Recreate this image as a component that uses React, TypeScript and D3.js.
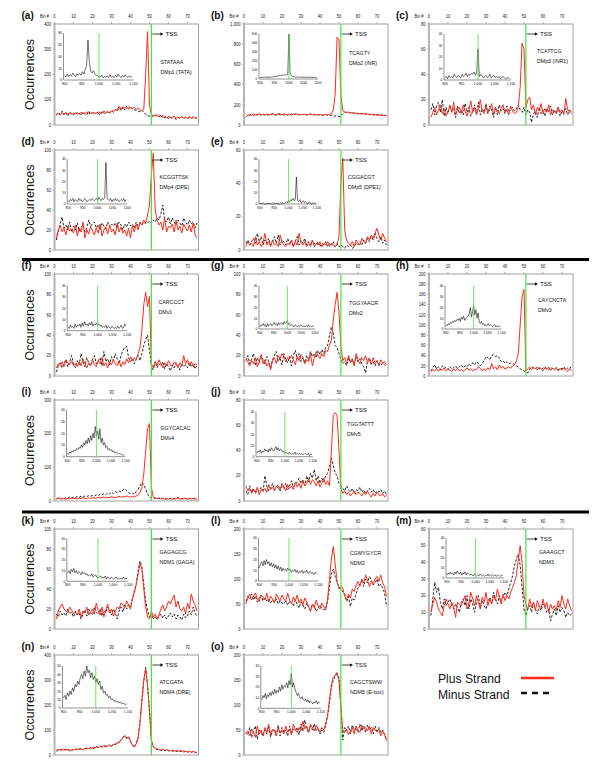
import React from 'react';
import * as d3 from 'd3';

// ---------- categories / ticks ----------
const BINS = d3.range(1, 76); // bin numbers 1..75
const BIN_TICKS = [0, 10, 20, 30, 40, 50, 60, 70];
const INSET_X = d3.range(900, 1100, 4); // 50 positions
const INSET_X_TICKS = [900, 950, 1000, 1050, 1100];
const TSS_BIN = 51;
const INSET_TSS = 1000;

// ---------- series ----------
const A_PLUS = [42,45,40,48,44,50,43,46,41,47, 45,49,43,50,46,44,52,47,45,50, 48,44,52,49,46,55,50,53,48,56, 55,60,58,75,62,66,70,64,72,68, 65,70,62,68,60, 55,62,200,370,80, 40,38,36,42,34, 38,30,35,28,33, 30,26,35,28,32, 27,34,26,31,25, 30,28,33,26,30];
const A_MINUS = [38,50,42,55,40,48,36,52,44,40, 50,42,47,38,52,45,40,55,43,48, 42,50,46,40,54,48,44,52,46,58, 50,62,55,68,58,72,60,75,62,70, 64,60,58,55,52, 58,52,42,36,35, 38,33,40,32,36, 30,38,28,34,24, 32,28,36,22,30, 26,33,25,30,28, 32,25,30,28,27];
const A_INSET = [8,5,10,6,9,7,12,8,6,10, 9,11,8,14,10,18,25,68,30,15, 12,16,10,8,7,6,5,8,4,6, 5,7,4,9,5,6,4,8,5,10, 6,4,8,5,9,6,4,7,5,6];

const B_PLUS = [80,95,105,100,110,98,105,112,100,108, 102,110,98,106,112,104,100,115,108,102, 110,105,100,112,98,108,104,110,100,106, 102,108,98,104,110,100,106,98,104,100, 102,98,106,100,104, 110,150,300,870,850, 300,140,130,125,128, 120,125,115,118,110, 112,108,115,104,110, 100,108,98,104,96, 102,95,100,92,98];
const B_MINUS = [75,100,95,108,92,105,98,110,96,104, 100,94,106,98,110,102,96,108,100,104, 98,106,100,96,108,102,110,98,104,100, 106,98,104,100,108,96,102,106,98,104, 100,96,102,98,94, 96,90,88,85,82, 90,110,128,122,125, 118,122,115,120,112, 110,116,106,112,104, 108,100,106,98,102, 96,100,94,98,90];
const B_INSET = [15,18,20,17,22,19,21,18,23,20, 22,25,24,28,30,32,35,38,40,42, 45,42,48,44,50,500,70,40,30,25, 22,20,24,21,19,22,20,18,21,19, 20,17,19,18,20,16,18,19,17,18];

const C_PLUS = [6,10,14,8,12,16,9,13,7,11, 15,10,18,8,12,14,9,16,11,7, 12,19,10,14,8,13,20,11,9,15, 10,12,17,8,14,11,9,13,16,10, 12,8,15,11,9, 10,14,30,65,60, 14,20,22,12,16, 8,14,11,17,9, 13,10,16,8,12, 11,9,14,10,12, 8,21,12,10,11];
const C_MINUS = [12,17,8,15,18,10,20,7,14,9, 16,11,13,6,15,9,12,8,17,10, 14,7,11,16,9,18,8,13,10,17, 9,15,12,6,14,8,16,11,13,9, 15,10,12,14,11, 13,16,12,10,14, 8,12,10,2,9, 11,6,14,9,12, 7,13,10,15,8, 12,9,14,7,11, 10,13,8,12,9];
const C_INSET = [2,3,1,4,2,3,2,5,3,2, 4,3,2,5,3,4,6,3,5,4, 6,5,7,4,6,27,3,5,4,2, 3,4,2,3,5,2,3,4,2,3, 2,3,1,2,3,2,1,2,2,1];

const D_PLUS = [12,20,25,18,22,15,24,19,21,17, 25,14,22,18,28,12,20,16,24,19, 15,22,17,26,14,20,23,16,25,18, 21,15,27,18,23,17,20,14,22,12, 24,18,26,20,28, 25,30,27,35,45, 75,97,40,30,25, 28,20,32,18,24, 22,26,18,30,20, 24,17,26,22,19, 25,18,27,15,12];
const D_MINUS = [10,18,26,33,22,25,20,28,18,24, 20,27,19,23,25,18,22,30,24,26, 28,22,25,20,27,24,21,28,23,26, 24,27,22,28,25,20,26,23,28,24, 26,22,28,24,27, 25,28,26,27,29, 27,30,28,32,30, 36,45,30,28,33, 26,32,28,25,30, 27,24,32,28,25, 30,26,28,22,27];
const D_INSET = [3,2,4,3,5,2,4,3,2,5, 3,4,2,3,5,4,2,3,4,3, 5,4,3,4,5,3,6,4,3,5, 4,6,37,5,4,3,5,2,4,3, 5,3,4,2,3,4,3,5,2,4];

const E_PLUS = [2,5,3,4,2,8,3,5,2,4, 10,3,5,2,6,3,4,2,9,5, 3,2,4,3,6,2,5,3,10,4, 3,5,2,4,3,6,2,4,3,5, 2,4,3,5,2, 4,3,2,3,8, 40,55,12,6,4, 3,5,2,6,4, 3,7,5,4,8, 6,9,7,10,13, 9,6,10,7,5];
const E_MINUS = [4,6,3,5,7,4,10,5,8,3, 6,4,7,3,5,8,4,9,3,6, 5,3,7,4,6,2,5,8,3,6, 4,7,3,5,2,6,4,3,5,2, 4,3,5,2,4, 3,5,2,4,2, 3,2,1,3,2, 3,1,2,4,3, 5,3,6,4,7, 5,8,6,10,7, 5,8,4,6,3];
const E_INSET = [0,1,0,1,0,0,1,0,1,0, 0,1,0,1,0,1,0,0,1,0, 1,0,1,2,1,3,2,4,3,5, 3,4,24,3,2,4,1,2,3,1, 2,1,0,2,1,0,1,0,1,0];

const F_PLUS = [8,12,10,14,9,16,13,11,15,10, 12,9,14,10,17,12,8,13,10,16, 11,9,15,12,18,10,13,8,14,11, 16,12,10,15,9,14,11,17,13,19, 15,18,16,22,28, 45,70,82,68,78, 12,8,14,10,16, 12,8,13,10,15, 11,9,14,12,8, 13,10,20,12,16, 10,14,9,12,11];
const F_MINUS = [4,10,13,8,12,16,9,14,20,12, 8,15,11,22,14,9,18,13,10,16, 20,12,15,18,10,24,14,17,11,19, 15,22,17,12,20,25,28,29,18,14, 17,12,16,20,15, 22,30,36,40,25, 10,6,14,8,12, 10,14,7,12,9, 5,11,8,13,10, 6,12,9,11,8, 13,9,12,7,10];
const F_INSET = [3,2,5,3,4,2,6,3,5,4, 6,3,7,4,8,5,6,4,7,5, 8,4,6,5,7,5,6,4,5,3, 4,3,5,2,4,3,2,4,3,2, 3,2,4,2,3,5,2,3,6,4];

const G_PLUS = [18,14,10,15,12,18,9,14,20,12, 16,10,13,6,15,18,12,20,17,22, 19,14,18,17,20,16,11,19,15,21, 18,12,16,14,22,10,18,24,20,17, 22,19,25,24,30, 35,55,70,82,62, 30,15,18,12,20, 14,17,10,22,16, 12,18,15,20,13, 16,11,18,13,15, 10,16,13,14,11];
const G_MINUS = [15,20,12,17,22,10,18,13,21,16, 12,19,14,8,16,20,24,14,18,11, 22,16,13,19,10,20,25,17,22,14, 18,13,20,16,24,19,22,18,25,21, 26,22,28,30,40, 48,42,30,28,22, 16,12,14,10,18, 13,16,11,19,14, 17,12,9,3,15, 18,12,14,10,15, 12,10,13,11,9];
const G_INSET = [2,4,3,5,3,4,2,5,3,4, 5,3,4,6,4,5,3,6,4,5, 6,4,7,5,6,8,4,5,3,4, 3,2,4,3,2,3,2,4,3,2, 3,2,3,2,4,2,3,2,3,2];

const H_PLUS = [8,12,10,15,9,14,11,16,10,13, 12,9,14,11,15,10,13,9,12,16, 11,14,10,13,12,18,15,10,14,11, 16,12,25,14,18,12,22,15,19,13, 16,18,15,20,22, 30,45,100,155,170, 10,14,18,12,16, 15,12,17,14,10, 16,13,18,11,15, 12,16,10,14,12, 15,11,9,14,10];
const H_MINUS = [10,16,22,14,18,12,20,15,17,13, 18,14,16,20,15,18,22,16,20,18, 24,20,26,22,28,25,20,24,30,38, 36,32,40,42,38,40,35,28,30,25, 28,24,26,25,22, 20,18,14,12,10, 8,6,14,18,16, 14,18,15,12,16, 18,14,12,16,15, 13,17,12,15,14, 18,12,16,14,20];
const H_INSET = [4,3,5,4,6,5,7,6,8,7, 9,8,10,7,11,9,12,8,10,11, 12,14,20,11,16,22,13,18,10,15, 6,5,7,4,5,3,4,3,5,3, 4,3,2,3,4,2,3,2,3,2];

const I_PLUS = [5,10,8,6,7,5,8,6,9,7, 8,6,9,7,10,8,7,9,8,10, 9,8,11,9,10,12,9,11,10,13, 11,10,12,14,11,13,12,15,13,11, 14,12,15,18,25, 40,80,150,215,230, 40,12,9,7,8, 6,8,5,7,6, 8,5,7,6,9, 5,7,6,8,5, 7,6,8,5,6];
const I_MINUS = [6,8,5,9,7,10,8,12,9,11, 10,13,11,14,12,15,13,16,14,17, 15,18,16,20,18,22,19,24,21,26, 22,28,25,30,27,32,36,30,25,22, 24,20,28,35,45, 55,48,35,20,12, 8,6,9,7,8, 10,7,9,6,8, 7,9,6,8,10, 7,6,9,8,6, 8,7,6,9,7];
const I_INSET = [3,2,4,3,5,4,6,5,7,6, 8,7,10,8,12,10,14,11,16,12, 18,14,20,16,26,18,22,15,24,12, 16,10,12,8,9,6,7,5,6,4, 5,3,4,3,2,3,2,2,1,2];

const J_PLUS = [12,8,10,6,9,7,11,5,9,8, 10,7,13,9,11,8,12,10,9,14, 11,8,13,10,12,9,15,11,14,10, 16,12,14,18,13,17,15,12,16,11, 14,18,13,16,12, 40,68,70,68,40, 10,6,8,5,7, 4,6,8,5,7, 6,4,7,5,8, 5,3,6,4,7, 5,4,6,3,5];
const J_MINUS = [8,5,12,7,10,6,9,8,11,7, 20,12,8,10,14,9,11,13,8,12, 10,14,9,12,16,11,13,15,18,14, 17,12,20,15,22,18,25,16,20,14, 18,15,20,22,28, 34,28,22,20,14, 12,10,8,12,9, 7,10,6,9,8, 11,7,9,6,8, 10,7,9,6,8, 7,9,6,8,5];
const J_INSET = [3,5,4,6,3,5,4,7,5,6, 4,7,5,8,6,5,7,9,6,8, 5,7,6,4,5,3,4,3,2,4, 3,2,3,2,4,2,3,2,3,2, 3,2,2,3,2,2,3,1,2,2];

const K_PLUS = [10,18,22,25,20,18,16,22,19,15, 17,14,20,12,18,16,22,14,17,20, 15,26,18,14,22,12,19,25,16,20, 13,18,22,20,26,24,21,28,24,20, 30,36,44,55,65, 60,40,22,12,10, 18,12,15,10,14, 20,24,18,22,28, 25,30,34,22,28, 20,18,22,15,26, 20,35,28,24,18];
const K_MINUS = [15,12,18,14,16,13,20,15,17,12, 18,14,16,10,15,19,13,20,16,14, 22,17,15,20,13,18,16,22,19,14, 20,16,10,18,22,17,24,20,25,22, 30,38,45,58,68, 62,45,28,18,12, 14,10,13,9,12, 15,11,14,10,13, 16,12,15,10,14, 12,9,15,11,13, 18,14,22,16,13];
const K_INSET = [8,10,7,11,9,12,8,10,7,9, 8,6,9,7,8,6,7,5,6,5, 7,4,5,6,4,3,4,5,3,4, 3,5,2,4,3,2,4,3,2,3, 4,2,3,2,3,2,4,2,3,2];

const L_PLUS = [50,62,70,58,66,72,60,55,68,64, 58,72,54,66,60,52,70,62,56,68, 60,55,72,58,50,64,56,68,52,60, 48,62,54,45,35,50,42,58,46,40, 52,45,38,60,100, 140,165,130,95,80, 85,82,65,58,70, 62,80,75,88,95, 85,100,92,108,98, 85,95,90,100,105, 95,108,92,85,65];
const L_MINUS = [55,65,60,70,58,66,54,62,68,56, 62,56,60,52,58,54,60,50,56,52, 50,56,48,55,52,46,58,50,42,54, 48,40,52,44,38,50,45,35,42,48, 40,38,42,55,85, 110,120,105,92,85, 80,75,70,55,65, 45,62,58,70,82, 90,95,85,100,92, 105,98,88,92,100, 85,90,82,72,45];
const L_INSET = [12,16,18,14,19,15,20,16,18,14, 17,13,16,12,15,11,14,10,13,9, 12,10,11,9,12,10,11,8,10,9, 11,8,10,7,9,8,10,7,9,8, 10,7,8,9,7,8,6,8,7,8];

const M_PLUS = [10,15,19,16,12,10,8,14,18,15, 12,16,13,7,16,15,14,17,20,12, 15,22,18,14,20,16,12,19,16,22, 14,18,15,20,17,24,19,15,21,17, 20,18,22,25,28, 32,42,50,40,20, 15,12,18,13,16, 11,17,14,12,18, 13,16,10,15,12, 14,11,17,13,20, 15,12,18,14,11];
const M_MINUS = [8,18,28,22,25,16,12,18,14,16, 18,14,12,15,13,10,16,18,14,20, 12,18,15,10,16,20,13,17,14,12, 16,19,15,22,18,15,20,17,19,22, 20,24,28,32,38, 42,45,38,25,12, 8,12,14,10,16, 12,9,14,11,15, 13,10,12,5,9, 12,8,14,10,13, 11,7,10,8,9];
const M_INSET = [3,5,4,6,4,5,3,6,4,7, 5,4,6,3,5,4,6,3,5,4, 3,4,3,2,4,3,2,3,2,4, 3,2,3,2,3,2,4,2,3,2, 3,2,3,2,2,3,2,2,3,2];

const N_PLUS = [18,22,20,24,19,23,21,16,22,20, 24,21,26,23,22,27,24,28,25,30, 27,32,29,35,31,38,33,36,40,34, 42,45,48,52,58,70,78,65,72,55, 40,32,45,70,130, 220,300,345,280,180, 60,35,28,25,22, 20,24,18,21,19, 17,20,16,19,15, 18,14,17,13,16, 14,12,15,11,10];
const N_MINUS = [15,20,22,19,24,18,22,20,17,23, 21,25,22,27,20,25,28,23,30,26, 29,34,30,33,36,32,38,35,41,37, 44,40,50,48,60,72,75,68,74,52, 42,30,48,68,125, 215,295,350,275,175, 55,32,25,22,20, 18,21,17,20,16, 18,15,17,14,16, 13,16,12,15,11, 13,10,14,9,10];
const N_INSET = [12,15,10,18,14,20,16,24,20,28, 25,32,28,36,40,35,44,38,50,42, 45,36,42,34,38,30,35,28,32,22, 26,18,20,15,16,12,14,10,11,8, 9,7,8,6,7,5,6,5,4,5];

const O_PLUS = [42,48,38,52,45,35,58,42,50,38, 55,45,62,40,52,48,38,56,44,50, 42,58,46,52,40,62,50,45,55,48, 68,52,58,45,62,55,48,60,52,45, 55,50,62,80,110, 140,155,160,165,150, 95,50,45,52,40, 48,55,42,58,50, 45,60,52,55,48, 58,42,55,50,46, 52,38,48,42,30];
const O_MINUS = [45,40,55,35,48,58,32,50,45,38, 50,42,56,36,48,52,40,60,38,55, 45,50,38,58,44,52,48,55,40,62, 48,70,52,45,58,50,62,48,55,42, 50,45,60,78,105, 135,150,158,162,155, 100,30,55,48,58, 42,60,50,55,45, 62,48,58,45,60, 50,55,42,58,48, 55,45,50,40,28];
const O_INSET = [8,12,10,14,9,13,11,15,12,16, 13,18,14,17,15,20,16,22,18,21, 20,24,19,26,22,33,20,24,18,15, 12,14,10,9,11,8,7,9,6,8, 5,7,6,4,6,5,7,4,6,5];

// y tick values
const T_400 = [0, 100, 200, 300, 400];
const T_1000 = [0, 200, 400, 600, 800, 1000];
const T_80_20 = [0, 20, 40, 60, 80];
const T_100_20 = [0, 20, 40, 60, 80, 100];
const T_60_20 = [0, 20, 40, 60];
const T_200_20 = [0, 20, 40, 60, 80, 100, 120, 140, 160, 180, 200];
const T_300 = [0, 100, 200, 300];
const T_200_50 = [0, 50, 100, 150, 200];
const T_60_10 = [0, 10, 20, 30, 40, 50, 60];
const IT_80 = [0, 20, 40, 60, 80];
const IT_500 = [0, 100, 200, 300, 400, 500];
const IT_40 = [0, 10, 20, 30, 40];
const IT_50 = [0, 10, 20, 30, 40, 50];

// ---------- layout ----------
const COLS = [54.5, 244, 429];
const ROW_TOP = [24, 150, 274, 400, 529, 655];
const ROW_H = [101, 100, 102, 101, 100, 100];
const PW = 144;
const X_MAX = 75.8;

const FONT = 'Liberation Sans, Arial, Helvetica, sans-serif';
const RED = '#ff2b1c';
const GREEN = '#3ee83e';

type P = {
  id: string; motif: string; name: string; col: number; row: number;
  plus: number[]; minus: number[]; inset: number[];
  yMax: number; yTicks: number[]; iMax: number; iTicks: number[]; comma: boolean;
  ins: [number, number, number, number]; // dx, dy, w, h
  lab: [number, number]; occ: boolean;
};

const PANELS: P[] = [
  { id: 'a', motif: 'STATAAA', name: 'DMp1 (TATA)', col: 0, row: 0, plus: A_PLUS, minus: A_MINUS, inset: A_INSET, yMax: 400, yTicks: T_400, iMax: 80, iTicks: IT_80, comma: true, ins: [9, 9, 70, 47], lab: [106, 38], occ: true },
  { id: 'b', motif: 'TCAGTY', name: 'DMp2 (INR)', col: 1, row: 0, plus: B_PLUS, minus: B_MINUS, inset: B_INSET, yMax: 1000, yTicks: T_1000, iMax: 500, iTicks: IT_500, comma: false, ins: [15, 10, 59, 45], lab: [105, 29], occ: false },
  { id: 'c', motif: 'TCATTCG', name: 'DMp3 (INR1)', col: 2, row: 0, plus: C_PLUS, minus: C_MINUS, inset: C_INSET, yMax: 80, yTicks: T_80_20, iMax: 40, iTicks: IT_40, comma: true, ins: [15, 10, 67, 46], lab: [108, 27], occ: false },
  { id: 'd', motif: 'KCGGTTSK', name: 'DMp4 (DPE)', col: 0, row: 1, plus: D_PLUS, minus: D_MINUS, inset: D_INSET, yMax: 100, yTicks: T_100_20, iMax: 40, iTicks: IT_40, comma: false, ins: [12.7, 9, 60, 45], lab: [105, 27], occ: true },
  { id: 'e', motif: 'CGGACGT', name: 'DMp5 (DPE1)', col: 1, row: 1, plus: E_PLUS, minus: E_MINUS, inset: E_INSET, yMax: 60, yTicks: T_60_20, iMax: 40, iTicks: IT_40, comma: true, ins: [15, 9, 58, 45], lab: [104, 27], occ: false },
  { id: 'f', motif: 'CARCCCT', name: 'DMv1', col: 0, row: 2, plus: F_PLUS, minus: F_MINUS, inset: F_INSET, yMax: 100, yTicks: T_100_20, iMax: 40, iTicks: IT_40, comma: true, ins: [12.7, 11.7, 60, 45], lab: [104, 28], occ: true },
  { id: 'g', motif: 'TGGYAACR', name: 'DMv2', col: 1, row: 2, plus: G_PLUS, minus: G_MINUS, inset: G_INSET, yMax: 100, yTicks: T_100_20, iMax: 40, iTicks: IT_40, comma: false, ins: [15, 12, 56, 43], lab: [105, 29], occ: false },
  { id: 'h', motif: 'CAYCNCTA', name: 'DMv3', col: 2, row: 2, plus: H_PLUS, minus: H_MINUS, inset: H_INSET, yMax: 200, yTicks: T_200_20, iMax: 40, iTicks: IT_40, comma: true, ins: [16, 12, 56.5, 43], lab: [109, 26], occ: false },
  { id: 'i', motif: 'GGYCACAC', name: 'DMv4', col: 0, row: 3, plus: I_PLUS, minus: I_MINUS, inset: I_INSET, yMax: 300, yTicks: T_300, iMax: 40, iTicks: IT_40, comma: true, ins: [12, 10, 59, 46.7], lab: [106, 28], occ: true },
  { id: 'j', motif: 'TGGTATTT', name: 'DMv5', col: 1, row: 3, plus: J_PLUS, minus: J_MINUS, inset: J_INSET, yMax: 80, yTicks: T_80_20, iMax: 40, iTicks: IT_40, comma: true, ins: [12, 11.7, 57, 45], lab: [103, 24], occ: false },
  { id: 'k', motif: 'GAGAGCG', name: 'NDM1 (GAGA)', col: 0, row: 4, plus: K_PLUS, minus: K_MINUS, inset: K_INSET, yMax: 100, yTicks: T_100_20, iMax: 40, iTicks: IT_40, comma: true, ins: [12.3, 9.3, 61.5, 43], lab: [105, 23], occ: true },
  { id: 'l', motif: 'CGMYGYCR', name: 'NDM2', col: 1, row: 4, plus: L_PLUS, minus: L_MINUS, inset: L_INSET, yMax: 200, yTicks: T_200_50, iMax: 40, iTicks: IT_40, comma: true, ins: [14.5, 9, 60, 43], lab: [106, 24], occ: false },
  { id: 'm', motif: 'GAAAGCT', name: 'NDM3', col: 2, row: 4, plus: M_PLUS, minus: M_MINUS, inset: M_INSET, yMax: 60, yTicks: T_60_10, iMax: 40, iTicks: IT_40, comma: true, ins: [17, 9, 58, 40], lab: [110, 23], occ: false },
  { id: 'n', motif: 'ATCGATA', name: 'NDM4 (DRE)', col: 0, row: 5, plus: N_PLUS, minus: N_MINUS, inset: N_INSET, yMax: 400, yTicks: T_400, iMax: 50, iTicks: IT_50, comma: true, ins: [8, 11, 65.6, 42], lab: [105, 27], occ: true },
  { id: 'o', motif: 'CAGCTSWW', name: 'NDM5 (E-box)', col: 1, row: 5, plus: O_PLUS, minus: O_MINUS, inset: O_INSET, yMax: 200, yTicks: T_200_50, iMax: 40, iTicks: IT_40, comma: true, ins: [16.8, 10.7, 60.2, 42.6], lab: [106, 27], occ: false },
];

const fmtC = d3.format(',');

function T({ x, y, size, sx = 0.85, anchor = 'start', weight = 'normal', fill = '#111', children }: any) {
  return (
    <text transform={`translate(${x},${y}) scale(${sx},1)`} fontSize={size} textAnchor={anchor}
      fontWeight={weight} fill={fill} fontFamily={FONT}>{children}</text>
  );
}

function Panel({ p }: { p: P }) {
  const left = COLS[p.col];
  const top = ROW_TOP[p.row];
  const h = ROW_H[p.row];
  const x = d3.scaleLinear().domain([0, X_MAX]).range([left, left + PW]);
  const y = d3.scaleLinear().domain([0, p.yMax]).range([top + h, top]);
  const line = d3.line<number>().x((_, i) => x(BINS[i])).y((v) => y(v));
  const [dx, dy, iw, ih] = p.ins;
  const ix0 = left + dx, iy0 = top + dy;
  const ix = d3.scaleLinear().domain([897, 1100]).range([ix0, ix0 + iw]);
  const iy = d3.scaleLinear().domain([0, p.iMax]).range([iy0 + ih, iy0]);
  const iline = d3.line<number>().x((_, i) => ix(INSET_X[i])).y((v) => iy(v));
  const gx = x(TSS_BIN);
  const ifmt = (v: number) => (p.comma ? fmtC(v) : String(v));
  return (
    <g>
      {/* panel label */}
      <T x={left - 33} y={top - 5} size={10} sx={1} weight="bold">({p.id})</T>
      <T x={left - 10} y={top - 6.5} size={4.6} anchor="middle">Bin #</T>
      {BIN_TICKS.map((b) => (
        <g key={b}>
          <line x1={x(b)} x2={x(b)} y1={top} y2={top - 2} stroke="#666" strokeWidth={0.5} />
          <T x={x(b)} y={top - 6.5} size={4.8} anchor="middle">{b}</T>
        </g>
      ))}
      {p.yTicks.map((t) => (
        <g key={t}>
          <line x1={left} x2={left - 2} y1={y(t)} y2={y(t)} stroke="#666" strokeWidth={0.5} />
          <T x={left - 3.5} y={y(t) + 1.7} size={4.8} anchor="end">{fmtC(t)}</T>
        </g>
      ))}
      <rect x={left} y={top} width={PW} height={h} fill="none" stroke="#a0a0a0" strokeWidth={1} />
      <line x1={left} x2={left} y1={top} y2={top + h} stroke="#b5b5b5" strokeWidth={2} />
      {p.occ && (
        <text transform={`translate(${left - 21},${top + h / 2}) rotate(-90)`} fontSize={12.5}
          textAnchor="middle" fontFamily={FONT} fill="#111">Occurrences</text>
      )}
      {/* inset */}
      <line x1={ix0} x2={ix0} y1={iy0} y2={iy0 + ih} stroke="#222" strokeWidth={0.5} />
      <line x1={ix0} x2={ix(1100)} y1={iy0 + ih} y2={iy0 + ih} stroke="#222" strokeWidth={0.5} />
      {p.iTicks.map((t) => (
        <T key={t} x={ix0 - 1.5} y={iy(t) + 1.4} size={4} anchor="end">{t}</T>
      ))}
      {INSET_X_TICKS.map((t) => (
        <T key={t} x={ix(t)} y={iy0 + ih + 5} size={4} anchor="middle">{ifmt(t)}</T>
      ))}
      <path d={iline(p.inset) || ''} fill="none" stroke="#111" strokeWidth={0.6} />
      <line x1={ix(INSET_TSS)} x2={ix(INSET_TSS)} y1={iy0 + ih} y2={iy0} stroke={GREEN} strokeWidth={0.8} />
      {/* series */}
      <path d={line(p.minus) || ''} fill="none" stroke="#111" strokeWidth={0.9} strokeDasharray="2.6,1.6" />
      <path d={line(p.plus) || ''} fill="none" stroke={RED} strokeWidth={1} />
      <line x1={gx} x2={gx} y1={top} y2={top + h} stroke={GREEN} strokeWidth={1.2} />
      {/* TSS arrow */}
      <line x1={gx + 1} x2={gx + 10} y1={top + 10} y2={top + 10} stroke="#111" strokeWidth={0.8} />
      <path d={`M${gx + 12},${top + 10} L${gx + 9},${top + 8.3} L${gx + 9},${top + 11.7} Z`} fill="#111" />
      <T x={gx + 14} y={top + 12.2} size={6.2} sx={1}>TSS</T>
      {/* motif label */}
      <T x={left + p.lab[0]} y={top + p.lab[1] + 2.2} size={6.2} sx={0.85}>{p.motif}</T>
      <T x={left + p.lab[0]} y={top + p.lab[1] + 11.5} size={6.2} sx={0.85}>{p.name}</T>
    </g>
  );
}

export default function App() {
  return (
    <svg width={600} height={776} viewBox="0 0 600 776"
      style={{ position: 'absolute', left: 0, top: 0, background: '#fff' }}>
      <rect x={0} y={0} width={600} height={776} fill="#fff" />
      {PANELS.map((p) => <Panel key={p.id} p={p} />)}
      <line x1={22} x2={589} y1={259.5} y2={259.5} stroke="#000" strokeWidth={3} />
      <line x1={22} x2={589} y1={512} y2={512} stroke="#000" strokeWidth={3} />
      {/* legend */}
      <T x={438} y={683} size={13.5} sx={0.9}>Plus Strand</T>
      <line x1={521} x2={554} y1={678} y2={678} stroke={RED} strokeWidth={2.5} />
      <T x={438} y={698.5} size={13.5} sx={0.9}>Minus Strand</T>
      <line x1={521} x2={554} y1={693} y2={693} stroke="#111" strokeWidth={2.5} strokeDasharray="6,5" />
    </svg>
  );
}
